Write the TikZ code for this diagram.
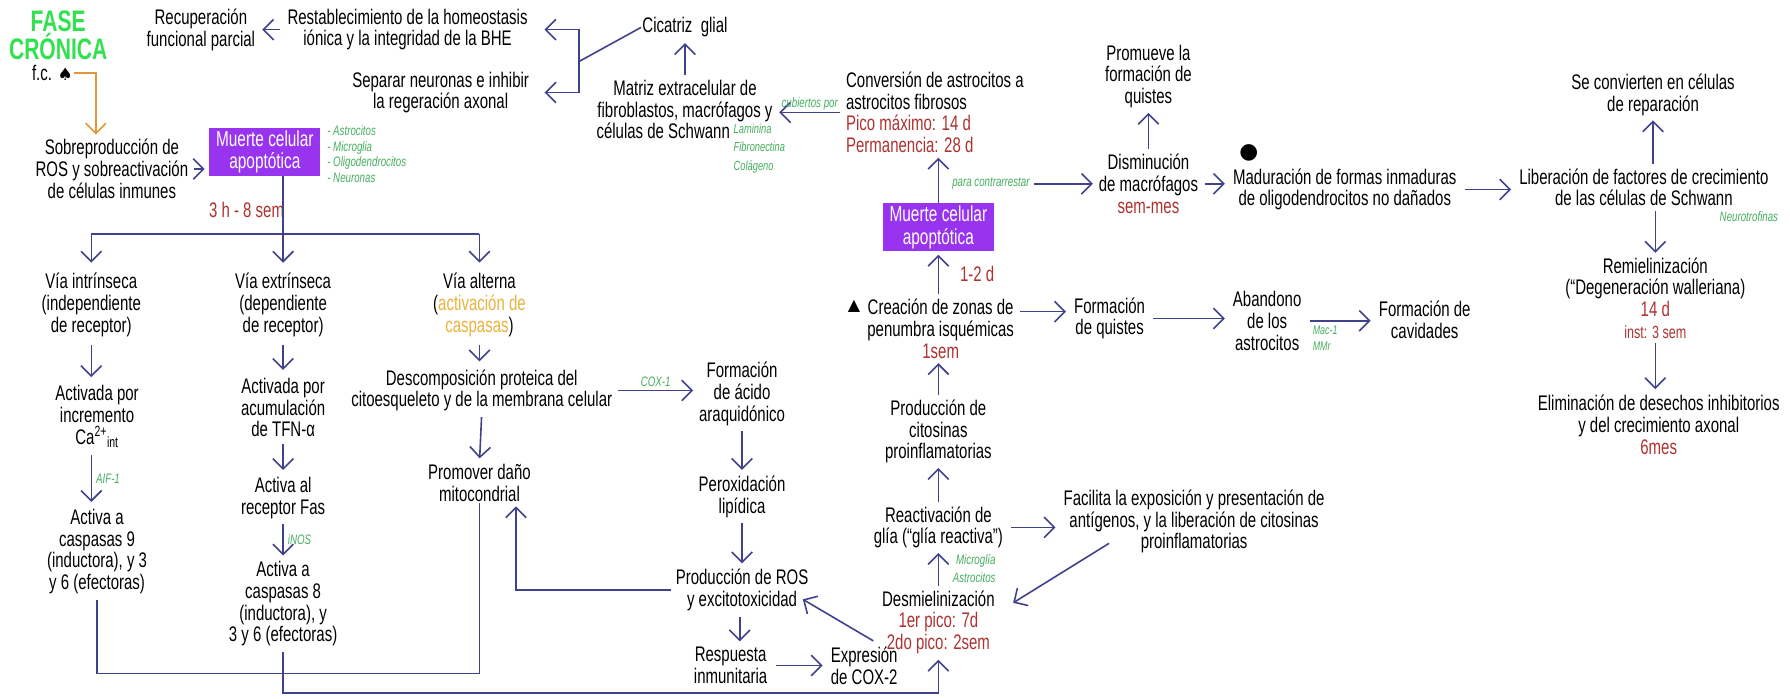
\documentclass[tikz,border=0pt]{standalone}
\usepackage{fontspec}
\setmainfont{Liberation Sans}[FakeStretch=0.71]
\newfontfamily\symf{DejaVu Sans}
\usetikzlibrary{arrows.meta,calc}
\definecolor{ab}{RGB}{64,66,140}
\definecolor{purp}{RGB}{152,52,240}
\definecolor{rd}{RGB}{175,50,50}
\definecolor{gr}{RGB}{70,175,95}
\definecolor{fgreen}{RGB}{50,225,80}
\definecolor{org}{RGB}{225,150,55}
\definecolor{yel}{RGB}{232,180,60}
\newcommand{\rt}[1]{\textcolor{rd}{#1}}
\newcommand{\yt}[1]{\textcolor{yel}{#1}}
\begin{document}
\begin{tikzpicture}[x=1pt,y=-1pt,
 t/.style={align=center,inner sep=1pt,font=\fontsize{18.5}{19}\selectfont},
 tl/.style={t,align=left},
 g/.style={inner sep=0.5pt,text=gr,font=\fontsize{12}{15}\selectfont\itshape,align=left},
 pbox/.style={fill=purp,text=white,align=center,minimum width=97pt,minimum height=42pt,inner sep=1pt,font=\fontsize{19}{20}\selectfont},
 ln/.style={draw=ab,line width=1.4pt},
 arr/.style={ln,-{Straight Barb[length=9pt,width=18pt,line width=1.4pt]}},
 oarr/.style={draw=org,line width=1.4pt,-{Straight Barb[length=9pt,width=18pt,line width=1.4pt]}},
]
\useasboundingbox[fill=white] (0,0) rectangle (1568,612);

% ---------- nodes ----------
\node[align=center,inner sep=1pt,text=fgreen,font=\fontsize{26}{25}\selectfont\bfseries] (fase) at (51,31) {FASE\\CRÓNICA};
\node[t] (fc) at (46,64) {f.c. {\symf\fontsize{15}{15}\selectfont ♠}};
\node[t] (recup) at (176,26) {Recuperación\\funcional parcial};
\node[t] (restab) at (357,26) {Restablecimiento de la homeostasis\\iónica y la integridad de la BHE};
\node[t] (separar) at (386,81) {Separar neuronas e inhibir\\la regeración axonal};
\node[t] (cicatriz) at (600,24) {Cicatriz\ \ glial};
\node[t] (matriz) at (600,96) {Matriz extracelular de\\fibroblastos, macrófagos y\\células de Schwann\hspace*{38pt}};
\node[g,anchor=north west,font=\fontsize{11.5}{16}\selectfont\itshape] (lamin) at (642,108) {Laminina\\Fibronectina\\Colágeno};
\node[tl,anchor=west] (conv) at (740,98.5) {Conversión de astrocitos a\\astrocitos fibrosos\\\rt{Pico máximo: 14 d}\\\rt{Permanencia: 28 d}};
\node[t] (promueve) at (1006,67) {Promueve la\\formación de\\quistes};
\node[t] (dismin) at (1006,161) {Disminución\\de macrófagos\\\rt{sem-mes}};
\node[g] (contr) at (868,161) {para contrarrestar};
\node[pbox] (box2) at (822,199) {Muerte celular\\apoptótica};
\node[t,text=rd] (d12) at (856,240) {1-2 d};
\node[t] (crea) at (824,288) {Creación de zonas de\\penumbra isquémicas\\\rt{1sem}};
\node[inner sep=0pt,font=\symf\fontsize{14}{14}\selectfont] (tri) at (748,268) {▲};
\node[t] (fquistes) at (972,279) {Formación\\de quistes};
\node[t] (aband) at (1110,281) {Abandono\\de los\\astrocitos};
\node[t] (cavid) at (1248,280) {Formación de\\cavidades};
\node[inner sep=0pt,font=\symf\fontsize{19}{19}\selectfont] (dot) at (1094,134) {●};
\node[t] (madur) at (1178,166) {Maduración de formas inmaduras\\de oligodendrocitos no dañados};
\node[t] (liber) at (1440,164) {Liberación de factores de crecimiento\\de las células de Schwann};
\node[g] (neuro) at (1532,190) {Neurotrofinas};
\node[t] (secon) at (1448,83) {Se convierten en células\\de reparación};
\node[t] (remiel) at (1450,261) {Remielinización\\(“Degeneración walleriana)\\\rt{14 d}\\{\fontsize{15.5}{16}\selectfont\rt{inst: 3 sem}}};
\node[t] (elim) at (1453,372) {Eliminación de desechos inhibitorios\\y del crecimiento axonal\\\rt{6mes}};

\node[t] (sobre) at (98,148) {Sobreproducción de\\ROS y sobreactivación\\de células inmunes};
\node[pbox] (box1) at (232,133) {Muerte celular\\apoptótica};
\node[g,anchor=west,font=\fontsize{12}{14}\selectfont\itshape] (cells) at (286,135) {- Astrocitos\\- Microglia\\- Oligodendrocitos\\- Neuronas};
\node[t,text=rd] (h38) at (216,184) {3 h - 8 sem};
\node[t] (intr) at (80,267) {Vía intrínseca\\(independiente\\de receptor)};
\node[t] (extr) at (248,267) {Vía extrínseca\\(dependiente\\de receptor)};
\node[t] (alt) at (420,267) {Vía alterna\\(\yt{activación de}\\\yt{caspasas})};
\node[t] (act1) at (85,365) {Activada por\\incremento\\Ca\textsuperscript{2+}\textsubscript{int}};
\node[t] (act2) at (248,357) {Activada por\\acumulación\\de TFN-α};
\node[t] (desc) at (422,342) {Descomposición proteica del\\citoesqueleto y de la membrana celular};
\node[t] (acido) at (650,345) {Formación\\de ácido\\araquidónico};
\node[t] (promo) at (420,423) {Promover daño\\mitocondrial};
\node[t] (casp9) at (85,483) {Activa a\\caspasas 9\\(inductora), y 3\\y 6 (efectoras)};
\node[t] (fas) at (248,436) {Activa al\\receptor Fas};
\node[t] (casp8) at (248,529) {Activa a\\caspasas 8\\(inductora), y\\3 y 6 (efectoras)};
\node[t] (perox) at (650,435) {Peroxidación\\lipídica};
\node[t] (ros) at (650,517) {Producción de ROS\\y excitotoxicidad};
\node[t] (resp) at (640,583) {Respuesta\\inmunitaria};
\node[t] (expr) at (757,583) {Expresión\\de COX-2};
\node[t] (desmi) at (822,545) {Desmielinización\\\rt{1er pico: 7d}\\\rt{2do pico: 2sem}};
\node[t] (react) at (822,462) {Reactivación de\\glía (“glía reactiva”)};
\node[g,align=right,anchor=west] (micro) at (834,498) {Microglía\\Astrocitos};
\node[t] (facil) at (1046,457) {Facilita la exposición y presentación de\\antígenos, y la liberación de citosinas\\proinflamatorias};
\node[t] (prodc) at (822,378) {Producción de\\citosinas\\proinflamatorias};

\coordinate (tx) at (477,0);
\coordinate (bk) at (507,54);
\coordinate (br) at (248,205);
\coordinate (bl1) at (0,590);
\coordinate (bl2) at (0,607);

% ---------- connectors ----------
\draw[oarr,shorten >=3pt] (fc.east) -| ([xshift=-14pt]sobre.north);
\draw[arr,shorten <=5pt,shorten >=5pt] (restab.west) -- (recup.east);
\draw[ln] (bk) -- (cicatriz.west);
\draw[arr] (bk) |- (restab.east -| tx);
\draw[arr] (bk) |- (separar.east -| tx);
\draw[arr,shorten <=3pt,shorten >=4pt] (matriz.north -| cicatriz.south) -- (cicatriz.south);
\draw[arr,shorten <=4pt,shorten >=4pt] (conv.west) -- (conv.west -| matriz.east)
  node[g,midway,above=1pt] (cub) {cubiertos por};
\draw[arr,shorten >=3pt] (box2.north) -- (box2.north |- conv.south);
\draw[arr,shorten <=3pt,shorten >=4pt] (contr.east) -- (contr.east -| dismin.west);
\draw[arr,shorten <=3pt,shorten >=3pt] (dismin.north) -- (promueve.south);
\draw[arr,shorten <=5pt,shorten >=6pt] (dismin.east) -- (dismin.east -| madur.west);
\draw[arr,shorten <=6pt,shorten >=6pt] (madur.east) -- (madur.east -| liber.west);
\draw[arr,shorten <=3pt,shorten >=3pt] (liber.south -| remiel.north) -- (remiel.north);
\draw[arr,shorten <=3pt,shorten >=3pt] (liber.north -| secon.south) -- (secon.south);
\draw[arr,shorten <=3pt,shorten >=4pt] (remiel.south) -- (elim.north -| remiel.south);
\draw[arr,shorten <=3pt,shorten >=3pt] (crea.north -| box2.south) -- (box2.south);
\draw[arr,shorten <=4pt,shorten >=6pt] ([yshift=15pt]crea.east) -- ([yshift=15pt]crea.east -| fquistes.west);
\draw[arr,shorten <=6pt,shorten >=6pt] (fquistes.east) -- (fquistes.east -| aband.west);
\draw[arr,shorten <=6pt,shorten >=6pt] (aband.east) -- (aband.east -| cavid.west)
  node[g,pos=0.3,anchor=north,yshift=-3pt,font=\fontsize{11}{14}\selectfont\itshape] (mac) {Mac-1\\MMr};
\draw[arr,shorten <=3pt,shorten >=3pt] (prodc.north) -- (prodc.north |- crea.south);
\draw[arr,shorten <=3pt,shorten >=3pt] (react.north) -- (prodc.south);
\draw[arr,shorten <=6pt,shorten >=6pt] (react.east) -- (react.east -| facil.west);
\draw[arr] ($(facil.south west)+(41,-10)$) -- ($(desmi.north east)+(15,12)$);
\draw[arr,shorten <=3pt,shorten >=3pt] (desmi.north) -- (react.south);

\draw[arr,shorten <=4pt,shorten >=4pt] (sobre.east) -- (sobre.east -| box1.west);
\draw[ln] (box1.south -| br) -- (br);
\draw[ln] (intr.north |- br) -- (alt.north |- br);
\draw[arr,shorten >=8pt] (intr.north |- br) -- (intr.north);
\draw[arr,shorten >=8pt] (br) -- (extr.north);
\draw[arr,shorten >=8pt] (alt.north |- br) -- (alt.north);
\draw[arr,shorten <=6pt,shorten >=6pt] (intr.south) -- (intr.south |- act1.north);
\draw[arr,shorten <=6pt,shorten >=6pt] (extr.south) -- (act2.north);
\draw[arr,shorten <=6pt,shorten >=6pt] (alt.south) -- (alt.south |- desc.north);
\draw[arr,shorten <=5pt,shorten >=5pt] (act1.south -| intr.south) -- (intr.south |- casp9.north)
  node[g,midway,right=3pt] (aif) {AIF-1};
\draw[arr,shorten <=5pt,shorten >=5pt] (act2.south) -- (fas.north);
\draw[arr,shorten <=4pt,shorten >=4pt] (fas.south) -- (casp8.north)
  node[g,midway,right=3pt] (inos) {iNOS};
\draw[arr,shorten <=4pt,shorten >=4pt] (desc.south) -- (promo.north);
\draw[arr,shorten <=4pt,shorten >=4pt] (desc.east) -- (desc.east -| acido.west)
  node[g,midway,above=2pt] (cox1) {COX-1};
\draw[arr,shorten <=4pt,shorten >=4pt] (acido.south) -- (perox.north);
\draw[arr,shorten <=4pt,shorten >=4pt] (perox.south) -- (ros.north);
\draw[arr,shorten <=4pt,shorten >=4pt] ([xshift=-2pt]ros.south) -- ([xshift=-2pt]ros.south |- resp.north);
\draw[arr,shorten <=6pt,shorten >=6pt] (resp.east) -- (expr.west);
\draw[arr] ($(expr.north)+(8,-4)$) -- ($(ros.east)+(-6,8)$);
\draw[arr,shorten <=3pt,shorten >=3pt] (ros.west) -| ([xshift=32pt]promo.south);
\draw[ln,shorten <=4pt] (casp9.south) -- (casp9.south |- bl1) -| (promo.south);
\draw[arr,shorten <=4pt,shorten >=4pt] (casp8.south) -- (casp8.south |- bl2) -| (desmi.south);
\end{tikzpicture}
\end{document}
